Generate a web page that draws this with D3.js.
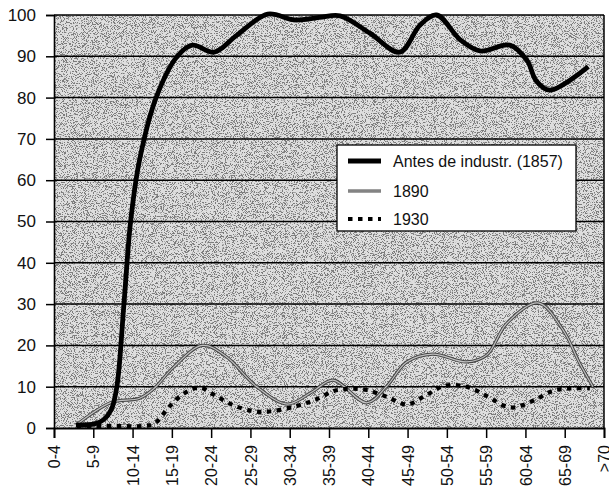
<!DOCTYPE html>
<html>
<head>
<meta charset="utf-8">
<script src="https://cdn.jsdelivr.net/npm/d3@7"></script>
<style>
  html, body { margin: 0; padding: 0; background: #fff; }
  svg { display: block; }
  text { font-family: "Liberation Sans", Arial, Helvetica, sans-serif; fill: #111; }
</style>
</head>
<body>
<svg id="chart" width="609" height="489"></svg>
<script>
// ---- data ----
const categories = ["0-4","5-9","10-14","15-19","20-24","25-29","30-34","35-39","40-44","45-49","50-54","55-59","60-64","65-69",">70"];
const categoryAges = [0,5,10,15,20,25,30,35,40,45,50,55,60,65,70];
const yTicks = [0,10,20,30,40,50,60,70,80,90,100];

const seriesNames = ["Antes de industr. (1857)", "1890", "1930"];

// traced points: age (x) and percentage (y)
const antesAge = [2.8,5.2,6.3,7.3,8.0,8.9,9.75,10.9,13.0,15.7,17.6,20.4,23.2,27.2,30.6,33.8,36.4,40.2,44.0,46.6,48.7,51.7,54.2,58.0,60.2,61.4,63.1,68.0];
const antesVal = [0.7,1.0,2.0,4.5,10,30,50,65,80,90,92.7,91,95,100.2,98.8,99.4,99.8,95.6,91,97.6,100,94,91.3,92.7,89,84,81.8,87.5];

const s1890Age = [2.8,7.3,10.9,12.8,15.1,18.9,21.9,25.8,29.7,32.9,35.5,39.8,42.3,44.9,48.2,52.5,55.1,57.6,61.6,64.8,66.9,68.6];
const s1890Val = [0.7,6.2,7.2,9.7,14.5,20,17.3,10,5.8,8.8,11.6,6.1,10,16,17.9,16,17.7,25.3,30.3,23.7,15.7,10];

const s1930Age = [2.9,7.5,11.5,12.8,14.7,16.6,18.5,20.4,22.7,25.3,27.4,30.6,33.2,35.7,37.8,39.8,42.3,44.9,47.4,49.7,52.5,55.1,57.4,58.7,61.2,63.5,65.7,68.2];
const s1930Val = [0.3,0.5,0.5,1.1,5.2,8.4,9.8,8,5.6,4.1,4,5.2,6.8,9,9.5,9.2,7.6,5.7,8,10.2,10,7.7,5.3,5,6.8,9,9.6,9.6];

// ---- layout ----
const svg = d3.select("#chart");
const plotL = 54, plotR = 604, plotT = 15, plotB = 428;

const x = d3.scaleLinear().domain([0, 70]).range([plotL, plotR]);
const y = d3.scaleLinear().domain([0, 100]).range([plotB, plotT]);

const defs = svg.append("defs");
const f = defs.append("filter").attr("id","stipple")
  .attr("x","0").attr("y","0").attr("width","100%").attr("height","100%");
f.append("feTurbulence").attr("type","fractalNoise").attr("baseFrequency","1.1")
  .attr("numOctaves","2").attr("seed","7").attr("result","noise");
f.append("feColorMatrix").attr("in","noise").attr("type","matrix")
  .attr("values","0 0 0 0 0.2  0 0 0 0 0.2  0 0 0 0 0.2  -14 0 0 0 6.6");

// plot background
svg.append("rect").attr("x", plotL).attr("y", plotT)
  .attr("width", plotR-plotL).attr("height", plotB-plotT).attr("fill", "#dedede");
svg.append("rect").attr("x", plotL).attr("y", plotT)
  .attr("width", plotR-plotL).attr("height", plotB-plotT)
  .attr("fill", "#000").attr("filter","url(#stipple)");

// gridlines
svg.append("g").selectAll("line").data(yTicks.filter(d => d > 0)).join("line")
  .attr("x1", plotL).attr("x2", plotR)
  .attr("y1", d => y(d)).attr("y2", d => y(d))
  .attr("stroke", "#000").attr("stroke-width", 1.5);

// right border
svg.append("line").attr("x1", plotR).attr("x2", plotR).attr("y1", plotT).attr("y2", plotB)
  .attr("stroke", "#000").attr("stroke-width", 1.5);

// y axis
const yAxis = svg.append("g").attr("transform", `translate(${plotL},0)`)
  .call(d3.axisLeft(y).tickValues(yTicks).tickSize(8).tickPadding(10));
yAxis.select(".domain").attr("stroke", "#000").attr("stroke-width", 1.6);
yAxis.selectAll(".tick line").attr("stroke", "#000").attr("stroke-width", 1.5);
yAxis.selectAll("text").attr("font-size", 17).style("font-family", '"Liberation Sans", Arial, sans-serif').attr("fill","#111");

// x axis
const xAxis = svg.append("g").attr("transform", `translate(0,${plotB})`)
  .call(d3.axisBottom(x).tickValues(categoryAges).tickSize(10)
        .tickFormat((d, i) => categories[i]));
xAxis.select(".domain").attr("stroke", "#000").attr("stroke-width", 1.8);
xAxis.selectAll(".tick line").attr("stroke", "#000").attr("stroke-width", 1.5);
xAxis.selectAll("text")
  .attr("font-size", 16).style("font-family", '"Liberation Sans", Arial, sans-serif').attr("fill","#111")
  .attr("text-anchor", "end")
  .attr("transform", "rotate(-90)")
  .attr("x", -17).attr("y", 0).attr("dy", "0.35em");

// lines
const line = d3.line().curve(d3.curveCatmullRom.alpha(0.5))
  .x(d => x(d[0])).y(d => y(d[1]));

const d1930 = s1930Age.map((a, i) => [a, s1930Val[i]]);
const d1890 = s1890Age.map((a, i) => [a, s1890Val[i]]);
const dAntes = antesAge.map((a, i) => [a, antesVal[i]]);

svg.append("path").datum(d1890).attr("d", line).attr("fill","none")
  .attr("stroke", "#444").attr("stroke-width", 3.2);
svg.append("path").datum(d1890).attr("d", line).attr("fill","none")
  .attr("stroke", "#c2c2c2").attr("stroke-width", 1.2);

svg.append("path").datum(d1930).attr("d", line).attr("fill","none")
  .attr("stroke", "#000").attr("stroke-width", 4.2).attr("stroke-dasharray", "4.5 5.5");

svg.append("path").datum(dAntes).attr("d", line).attr("fill","none")
  .attr("stroke", "#000").attr("stroke-width", 4.8).attr("stroke-linejoin","round");

// legend
const lg = svg.append("g");
lg.append("rect").attr("x", 337).attr("y", 145).attr("width", 239).attr("height", 86)
  .attr("fill", "#fff").attr("stroke", "#000").attr("stroke-width", 1.3);
const rows = [161, 191, 219];
rows.forEach((ry, i) => {
  if (i === 0) {
    lg.append("line").attr("x1", 348).attr("x2", 381).attr("y1", ry).attr("y2", ry)
      .attr("stroke", "#000").attr("stroke-width", 4.8);
  } else if (i === 1) {
    lg.append("line").attr("x1", 348).attr("x2", 381).attr("y1", ry).attr("y2", ry)
      .attr("stroke", "#444").attr("stroke-width", 3.2);
    lg.append("line").attr("x1", 348).attr("x2", 381).attr("y1", ry).attr("y2", ry)
      .attr("stroke", "#c2c2c2").attr("stroke-width", 1.2);
  } else {
    lg.append("line").attr("x1", 348).attr("x2", 381).attr("y1", ry).attr("y2", ry)
      .attr("stroke", "#000").attr("stroke-width", 4.2).attr("stroke-dasharray", "4.5 5.5");
  }
  lg.append("text").attr("x", 393).attr("y", ry).attr("dy", "0.36em")
    .attr("font-size", 16).text(seriesNames[i]);
});
</script>
</body>
</html>
